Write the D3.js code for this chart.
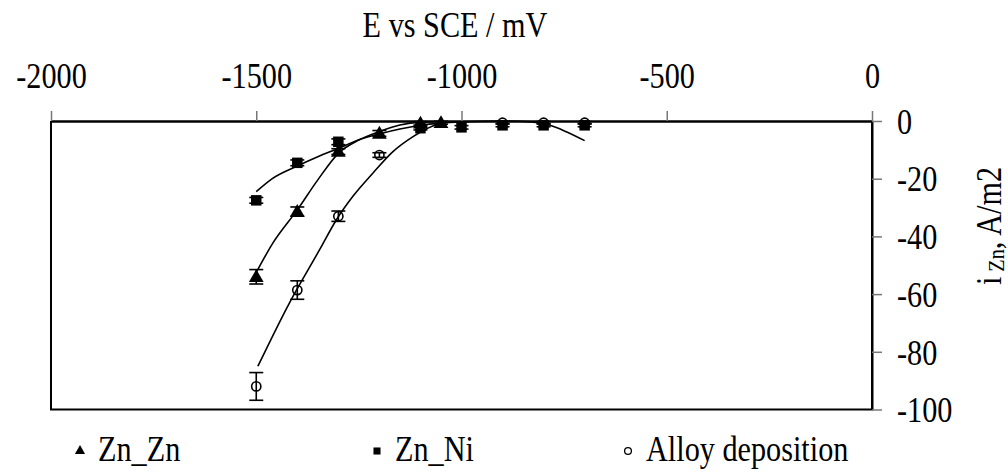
<!DOCTYPE html>
<html>
<head>
<meta charset="utf-8">
<script src="https://cdn.jsdelivr.net/npm/d3@7"></script>
<style>
  html, body { margin: 0; padding: 0; background: #fff; }
  svg { display: block; font-family: "Liberation Serif", "Times New Roman", serif; }
</style>
</head>
<body>
<svg id="chart" width="1008" height="472"></svg>
<script>
// Potential (mV vs SCE) and zinc partial current density (A/m2)
const znZnE   = [-1500, -1400, -1300, -1200, -1100, -1050];
const znZnI   = [-54, -31.4, -10.6, -4.3, -0.8, -0.6];
const znZnErr = [2.5, 1.6, 1.0, 1.0, 0.6, 0.5];

const znNiE   = [-1500, -1400, -1300, -1100, -1000, -900, -800, -700];
const znNiI   = [-27.5, -14.5, -7.2, -2.5, -2.2, -1.5, -1.5, -1.5];
const znNiErr = [1.0, 1.0, 1.0, 0.6, 0.6, 0.5, 0.5, 0.5];

const alloyE   = [-1500, -1400, -1300, -1200, -900, -800, -700];
const alloyI   = [-92, -58.6, -33, -11.8, -0.6, -0.6, -0.6];
const alloyErr = [4.8, 3.2, 1.8, 0.8, 0.4, 0.4, 0.4];

// Trend lines through each data set
const znZnFitE = [-1500, -1460, -1400, -1350, -1300, -1250, -1200, -1150, -1100, -1050];
const znZnFitI = [-52.5, -42.4, -30.8, -20.4, -11.2, -6.6, -3.7, -1.4, -0.4, -0.2];
const znNiFitE = [-1500, -1460, -1400, -1350, -1300, -1250, -1200, -1150, -1100, -1000, -900, -830, -786, -745, -700];
const znNiFitI = [-24.5, -19.9, -15.6, -12.4, -9.5, -6.5, -4.5, -2.8, -1.5, -0.3, 0, -0.3, -1.4, -3.7, -6.8];
const alloyFitE = [-1496, -1419, -1346, -1305, -1265, -1216, -1167, -1118, -1070, -1037];
const alloyFitI = [-85, -63, -44.7, -34.3, -26.2, -18.1, -10.6, -5.4, -1.7, -0.3];

const xTicks = [-2000, -1500, -1000, -500, 0];
const yTicks = [0, -20, -40, -60, -80, -100];

const legendNames = ["Zn_Zn", "Zn_Ni", "Alloy deposition"];

const svg = d3.select("#chart");
const x = d3.scaleLinear().domain([-2000, 0]).range([51, 872]);
const y = d3.scaleLinear().domain([0, -100]).range([121, 409.5]);

const FS = 36;        // label size
const SQUEEZE = 0.84; // narrow serif face

// Places a text node at (tx, ty) with a horizontally narrowed face
function placeNarrow(sel, tx, ty, extra) {
  sel.attr("x", 0).attr("y", 0)
    .attr("transform", `translate(${tx},${ty})${extra || ""} scale(${SQUEEZE},1)`);
}

// Frame: left, bottom, right
svg.append("path")
  .attr("d", `M${x(-2000)},${y(0)}V${y(-100)}H${x(0)}V${y(0)}`)
  .attr("fill", "none").attr("stroke", "#000").attr("stroke-width", 2);

// Top x axis
const xAxis = svg.append("g").attr("transform", `translate(0,${y(0)})`)
  .call(d3.axisTop(x).tickValues(xTicks).tickSize(10).tickSizeOuter(0).tickPadding(23));
xAxis.select(".domain").attr("stroke", "#000").attr("stroke-width", 2.5);
xAxis.selectAll(".tick line").attr("stroke", "#777").attr("stroke-width", 1.5);
xAxis.selectAll(".tick text")
  .attr("font-size", FS).attr("fill", "#000").attr("font-family", "Liberation Serif")
  .attr("dy", null).text(d => String(d))
  .each(function () { placeNarrow(d3.select(this), 0, -33); });

// Right y axis
const yAxis = svg.append("g").attr("transform", `translate(${x(0)},0)`)
  .call(d3.axisRight(y).tickValues(yTicks).tickSize(10).tickSizeOuter(0).tickPadding(15));
yAxis.select(".domain").attr("stroke", "#000").attr("stroke-width", 2);
yAxis.selectAll(".tick line").attr("stroke", "#777").attr("stroke-width", 1.5);
yAxis.selectAll(".tick text")
  .attr("font-size", FS).attr("fill", "#000").attr("font-family", "Liberation Serif")
  .attr("dy", "0.34em").text(d => String(d))
  .each(function () { placeNarrow(d3.select(this), 25, 0); });

// Axis titles
const xTitle = svg.append("text").attr("text-anchor", "middle")
  .attr("font-size", FS).text("E vs SCE / mV");
placeNarrow(xTitle, 455, 37);

const yTitle = svg.append("text").attr("text-anchor", "middle").attr("font-size", FS);
yTitle.append("tspan").text("i");
yTitle.append("tspan").attr("font-size", 24).attr("dy", 3).text(" Zn");
yTitle.append("tspan").attr("dy", -3).text(", A/m2");
placeNarrow(yTitle, 1001, 226, " rotate(-90)");

// Trend lines
const line = d3.line().x(d => x(d[0])).y(d => y(d[1])).curve(d3.curveMonotoneX);
const fits = [
  d3.zip(znZnFitE, znZnFitI),
  d3.zip(znNiFitE, znNiFitI),
  d3.zip(alloyFitE, alloyFitI)
];
svg.append("g").selectAll("path").data(fits).join("path")
  .attr("d", line).attr("fill", "none").attr("stroke", "#000").attr("stroke-width", 1.6);

// Error bars
function errorBars(E, I, err) {
  const g = svg.append("g").attr("stroke", "#000").attr("stroke-width", 1.6);
  E.forEach((e, k) => {
    const cx = x(e), y1 = y(I[k] + err[k]), y2 = y(I[k] - err[k]);
    g.append("line").attr("x1", cx).attr("x2", cx).attr("y1", y1).attr("y2", y2);
    g.append("line").attr("x1", cx - 7).attr("x2", cx + 7).attr("y1", y1).attr("y2", y1);
    g.append("line").attr("x1", cx - 7).attr("x2", cx + 7).attr("y1", y2).attr("y2", y2);
  });
}
errorBars(znNiE, znNiI, znNiErr);
errorBars(znZnE, znZnI, znZnErr);
errorBars(alloyE, alloyI, alloyErr);

// Markers
const tri = d3.symbol().type(d3.symbolTriangle).size(95);
const sq = d3.symbol().type(d3.symbolSquare).size(110);

svg.append("g").selectAll("path").data(d3.zip(znNiE, znNiI)).join("path")
  .attr("d", sq).attr("transform", d => `translate(${x(d[0])},${y(d[1])})`).attr("fill", "#000");
svg.append("g").selectAll("path").data(d3.zip(znZnE, znZnI)).join("path")
  .attr("d", tri).attr("transform", d => `translate(${x(d[0])},${y(d[1]) + 1})`).attr("fill", "#000");
svg.append("g").selectAll("circle").data(d3.zip(alloyE, alloyI)).join("circle")
  .attr("cx", d => x(d[0])).attr("cy", d => y(d[1])).attr("r", 4.6)
  .attr("fill", "none").attr("stroke", "#000").attr("stroke-width", 1.6);

// Legend
const legendY = 461;
const legendX = [80, 377, 628];
const lg = svg.append("g");
lg.append("path").attr("d", d3.symbol().type(d3.symbolTriangle).size(45))
  .attr("transform", `translate(${legendX[0]},${legendY - 10})`).attr("fill", "#000");
lg.append("path").attr("d", d3.symbol().type(d3.symbolSquare).size(50))
  .attr("transform", `translate(${legendX[1]},${legendY - 10})`).attr("fill", "#000");
lg.append("circle").attr("cx", legendX[2]).attr("cy", legendY - 10).attr("r", 3.4)
  .attr("fill", "none").attr("stroke", "#000").attr("stroke-width", 1.3);
lg.selectAll("text").data(legendNames).join("text")
  .attr("font-size", FS).text(d => d)
  .each(function (d, k) { placeNarrow(d3.select(this), legendX[k] + 18, legendY); });
</script>
</body>
</html>
